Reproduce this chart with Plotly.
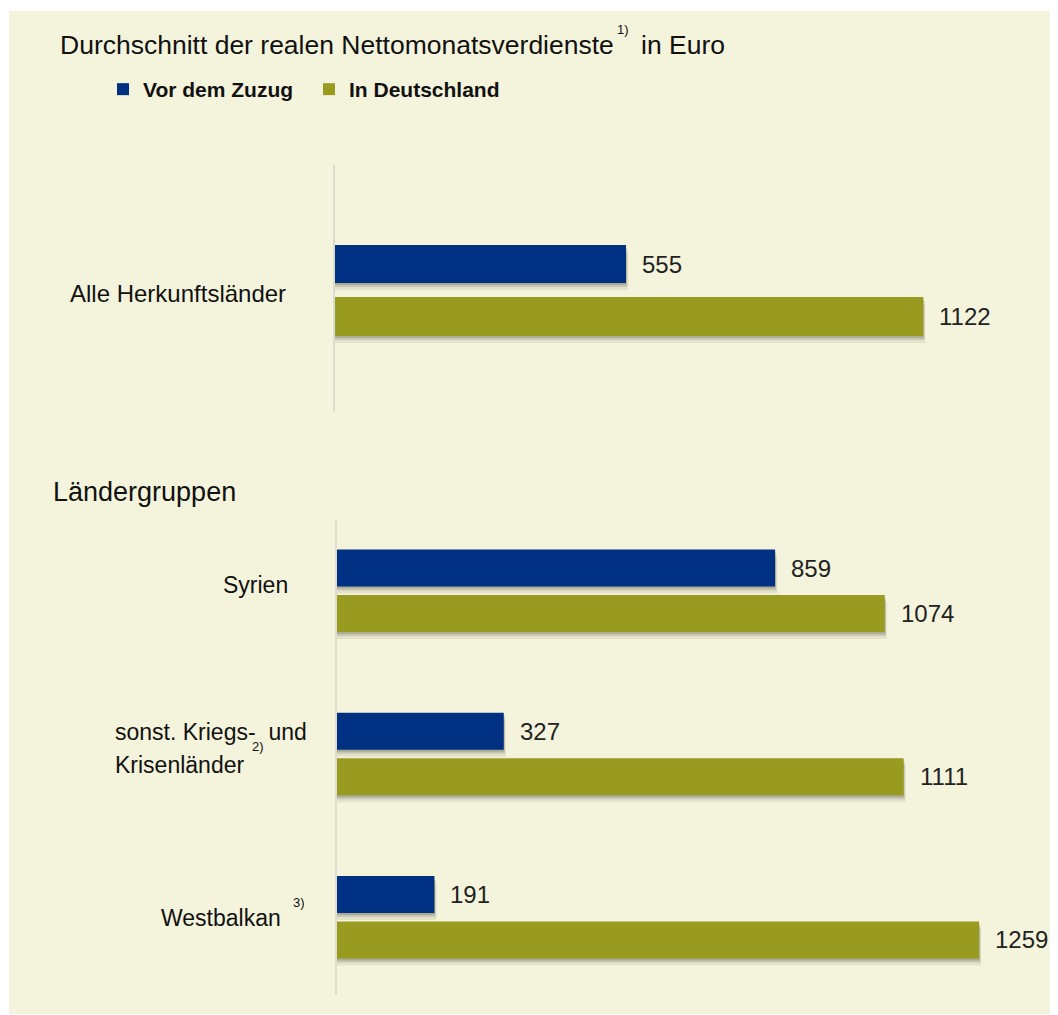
import plotly.graph_objects as go

# ---------------- data ----------------
top_categories = ["Alle Herkunftsländer"]
top_vor = [555]
top_in = [1122]

group_categories = ["Syrien", "sonst. Kriegs- und Krisenländer", "Westbalkan"]
group_vor = [859, 327, 191]
group_in = [1074, 1111, 1259]

series_names = ["Vor dem Zuzug", "In Deutschland"]
title_text = "Durchschnitt der realen Nettomonatsverdienste"
subtitle_text = "Ländergruppen"

# ---------------- styling ----------------
PAGE_OFF = 8                 # default body margin of the html page
W, H = 1058 - PAGE_OFF, 1015 - PAGE_OFF
BLUE = "#003082"
OLIVE = "#999A20"
BG = "#F4F4DC"
FONT = "Liberation Sans, Arial, sans-serif"
TXT = "#111111"


def fx(px):
    return (px - PAGE_OFF) / W


def fy(py):
    return 1 - (py - PAGE_OFF) / H


fig = go.Figure()

panels = {
    "top": dict(xa="x", ya="y", unit=100.0,
                blue=(-46, 38), olive=(6, 39)),
    "bot": dict(xa="x2", ya="y2", unit=163.3,
                blue=(-41, 37), olive=(4.5, 37)),
}


def add_panel(cats, vor, ind, p, show_legend):
    u = p["unit"]
    for (vals, col, name, geo) in [(vor, BLUE, series_names[0], p["blue"]),
                                    (ind, OLIVE, series_names[1], p["olive"])]:
        off, wid = geo[0] / u, geo[1] / u
        # soft drop shadows
        for dy, dxu, alpha in [(2, 1.0, 0.18), (4, 2.5, 0.14), (7, 4.0, 0.08)]:
            fig.add_trace(go.Bar(
                y=cats, x=[v + dxu for v in vals], orientation="h",
                offset=off + dy / u, width=wid,
                marker=dict(color=f"rgba(40,40,20,{alpha})", line=dict(width=0)),
                xaxis=p["xa"], yaxis=p["ya"], showlegend=False, hoverinfo="skip",
            ))
        fig.add_trace(go.Bar(
            y=cats, x=vals, orientation="h", name=name,
            offset=off, width=wid,
            marker=dict(color=col, line=dict(width=0)),
            xaxis=p["xa"], yaxis=p["ya"], showlegend=show_legend,
        ))
        centre_px = geo[0] + geo[1] / 2
        for c, v in zip(cats, vals):
            fig.add_annotation(
                x=v, y=c, xref=p["xa"], yref=p["ya"], text=str(v),
                showarrow=False, xanchor="left", yanchor="middle",
                xshift=14, yshift=-centre_px,
                font=dict(family=FONT, size=24, color="#222222"),
            )


add_panel(top_categories, top_vor, top_in, panels["top"], True)
add_panel(group_categories, group_vor, group_in, panels["bot"], False)

# background panel
fig.add_shape(type="rect", xref="paper", yref="paper",
              x0=fx(9), x1=1.0, y0=fy(1014), y1=fy(11),
              fillcolor=BG, line=dict(width=0), layer="below")

# category labels
lab_font = dict(family=FONT, size=23, color=TXT)
sup_font = dict(family=FONT, size=13, color=TXT)
fig.add_annotation(x=fx(178), y=top_categories[0], xref="paper", yref="y",
                   text=top_categories[0], showarrow=False, xanchor="center",
                   yshift=-2, font=dict(family=FONT, size=24, color=TXT))
fig.add_annotation(x=fx(255), y=group_categories[0], xref="paper", yref="y2",
                   text=group_categories[0], showarrow=False, xanchor="center",
                   yshift=6, font=lab_font)
fig.add_annotation(x=fx(113), y=group_categories[1], xref="paper", yref="y2",
                   text="sonst. Kriegs-  und", showarrow=False, xanchor="left",
                   yshift=22, font=lab_font)
fig.add_annotation(x=fx(113), y=group_categories[1], xref="paper", yref="y2",
                   text="Krisenländer", showarrow=False, xanchor="left",
                   yshift=-11, font=lab_font)
fig.add_annotation(x=fx(250), y=group_categories[1], xref="paper", yref="y2",
                   text="2)", showarrow=False, xanchor="left",
                   yshift=7, font=sup_font)
fig.add_annotation(x=fx(221), y=group_categories[2], xref="paper", yref="y2",
                   text=group_categories[2], showarrow=False, xanchor="center",
                   yshift=-1, font=lab_font)
fig.add_annotation(x=fx(291), y=group_categories[2], xref="paper", yref="y2",
                   text="3)", showarrow=False, xanchor="left",
                   yshift=14, font=sup_font)

# title
fig.add_annotation(x=fx(58), y=fy(45), xref="paper", yref="paper",
                   text=title_text, showarrow=False, xanchor="left", yanchor="middle",
                   font=dict(family=FONT, size=26.5, color=TXT))
fig.add_annotation(x=fx(615), y=fy(29), xref="paper", yref="paper",
                   text="1)", showarrow=False, xanchor="left", yanchor="middle",
                   font=sup_font)
fig.add_annotation(x=fx(639), y=fy(45), xref="paper", yref="paper",
                   text="in Euro", showarrow=False, xanchor="left", yanchor="middle",
                   font=dict(family=FONT, size=26.5, color=TXT))
fig.add_annotation(x=fx(51), y=fy(492), xref="paper", yref="paper",
                   text=subtitle_text, showarrow=False, xanchor="left", yanchor="middle",
                   font=dict(family=FONT, size=27, color=TXT))

scale_top = 0.5243
scale_bot = 0.51
top_dom = (335, 1043)
bot_dom = (337, 1041)
axis_line = "#DCDCD0"

fig.update_layout(
    width=W, height=H,
    margin=dict(l=0, r=0, t=0, b=0),
    paper_bgcolor="white", plot_bgcolor="rgba(0,0,0,0)",
    barmode="overlay",
    showlegend=True,
    legend=dict(orientation="h", x=fx(103), y=fy(69), xanchor="left", yanchor="top",
                bgcolor="rgba(0,0,0,0)",
                font=dict(family=FONT, size=21, color="#111111", weight="bold"),
                itemwidth=30, tracegroupgap=0, entrywidth=161, entrywidthmode="pixels"),
    xaxis=dict(domain=[fx(top_dom[0]), fx(top_dom[1])],
               range=[0, (top_dom[1] - top_dom[0]) / scale_top],
               visible=False, fixedrange=True),
    yaxis=dict(domain=[fy(412), fy(165)], range=[1.21, -1.26],
               showticklabels=False, showgrid=False, zeroline=False,
               showline=True, linecolor=axis_line, linewidth=1.5,
               anchor="x", fixedrange=True),
    xaxis2=dict(domain=[fx(bot_dom[0]), fx(bot_dom[1])],
                range=[0, (bot_dom[1] - bot_dom[0]) / scale_bot],
                visible=False, anchor="y2", fixedrange=True),
    yaxis2=dict(domain=[fy(995), fy(520)], range=[2.478, -0.432],
                showticklabels=False, showgrid=False, zeroline=False,
                showline=True, linecolor=axis_line, linewidth=1.5,
                anchor="x2", fixedrange=True),
)

fig.write_html("out.html")
